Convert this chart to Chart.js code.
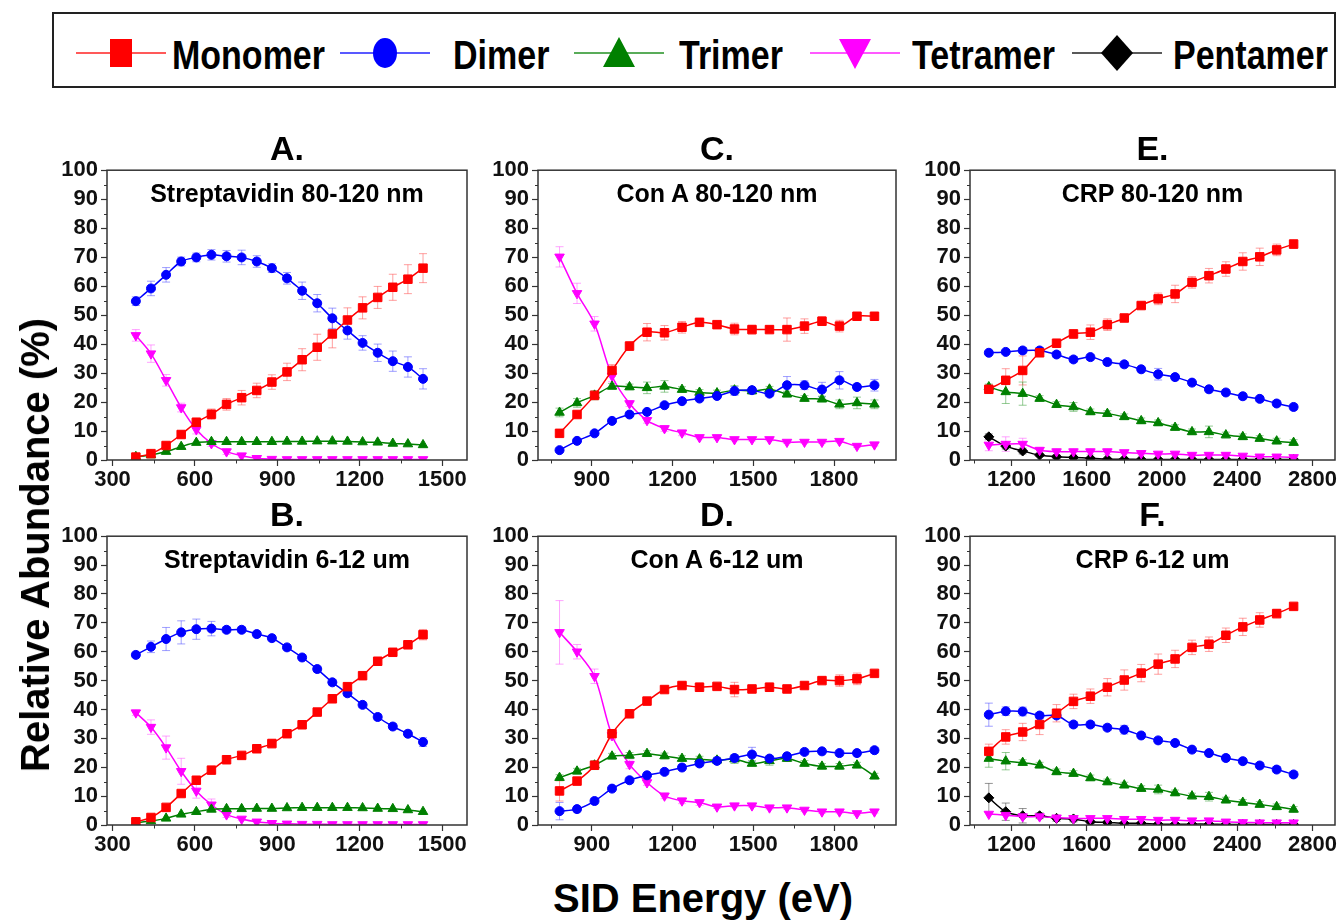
<!DOCTYPE html>
<html>
<head>
<meta charset="utf-8">
<script src="https://cdn.jsdelivr.net/npm/chart.js@4.4.0/dist/chart.umd.min.js"></script>
<style>
    html, body { margin: 0; padding: 0; background: #fff; }
    #wrap { position: relative; width: 1344px; height: 923px; overflow: hidden; font-family: "Liberation Sans", Arial, sans-serif; color: #000; }
    canvas { position: absolute; }
    .letter { position: absolute; font-weight: bold; font-size: 34px; line-height: 40px; transform: translateX(-50%); }
    .sub { position: absolute; font-weight: bold; font-size: 25px; line-height: 30px; white-space: nowrap; transform: translateX(-50%); }
    #legend { position: absolute; left: 52px; top: 12px; width: 1280px; height: 72px; border: 2.5px solid #222; }
    .leg-line { position: absolute; top: 35px; }
    .leg-text { position: absolute; top: 35px; font-weight: bold; font-size: 34px; line-height: 40px; transform: scaleY(1.22); white-space: nowrap; }
    .axis-title { position: absolute; font-weight: bold; font-size: 40px; line-height: 46px; white-space: nowrap; }
</style>
</head>
<body>
<div id="wrap">
    <div id="legend"></div>
</div>
<script>
    // SID energies (eV) for each protein
    var strepEnergy = [385, 440, 495, 550, 605, 660, 715, 770, 825, 880, 935, 990, 1045, 1100, 1155, 1210, 1265, 1320, 1375, 1430];
    var conAEnergy = [780, 845, 910, 975, 1040, 1105, 1170, 1235, 1300, 1365, 1430, 1495, 1560, 1625, 1690, 1755, 1820, 1885, 1950];
    var crpEnergy = [1080, 1170, 1260, 1350, 1440, 1530, 1620, 1710, 1800, 1890, 1980, 2070, 2160, 2250, 2340, 2430, 2520, 2610, 2700];

    var strepTicks = [300, 600, 900, 1200, 1500];
    var conATicks = [900, 1200, 1500, 1800];
    var crpTicks = [1200, 1600, 2000, 2400, 2800];
    var yTicks = [0, 10, 20, 30, 40, 50, 60, 70, 80, 90, 100];

    var seriesNames = ['Monomer', 'Dimer', 'Trimer', 'Tetramer', 'Pentamer'];

    // A. Streptavidin 80-120 nm
    var aMono = [1.0, 2.2, 5.0, 8.8, 13.0, 15.8, 19.2, 21.5, 24.0, 26.9, 30.4, 34.6, 38.9, 43.5, 48.3, 52.5, 56.1, 59.6, 62.4, 66.2];
    var aMonoErr = [0.5, 0.8, 1.0, 1.2, 1.5, 1.8, 2.0, 2.5, 2.5, 2.5, 3.0, 3.8, 4.5, 4.8, 4.2, 3.8, 3.8, 4.5, 5.0, 5.0];
    var aDim = [54.8, 59.2, 63.9, 68.5, 69.9, 70.8, 70.3, 69.9, 68.5, 66.2, 62.7, 58.4, 54.1, 48.9, 44.7, 40.4, 37.0, 34.1, 32.1, 28.0];
    var aDimErr = [1.5, 2.5, 2.5, 1.5, 1.5, 1.8, 2.0, 2.5, 2.0, 1.5, 2.0, 3.0, 3.0, 3.5, 3.0, 2.5, 3.0, 3.5, 3.5, 3.5];
    var aTri = [1.1, 1.7, 2.9, 4.6, 6.0, 6.3, 6.3, 6.3, 6.3, 6.3, 6.4, 6.4, 6.5, 6.5, 6.4, 6.2, 6.1, 5.7, 5.5, 5.2];
    var aTet = [43.0, 36.7, 27.5, 18.1, 10.5, 5.7, 2.9, 1.5, 0.6, 0.3, 0.2, 0.2, 0.2, 0.2, 0.2, 0.2, 0.2, 0.2, 0.2, 0.2];
    var aTetErr = [2.0, 3.0, 2.0, 1.5, 1.5, 1.0, 1.0, 0.5, 0.3, 0, 0, 0, 0, 0, 0, 0, 0, 0, 0, 0];

    // B. Streptavidin 6-12 um
    var bMono = [1.1, 2.6, 6.1, 10.9, 15.5, 19.0, 22.6, 24.1, 26.4, 28.2, 31.6, 34.7, 39.1, 43.7, 47.9, 51.7, 56.7, 59.8, 62.4, 65.9];
    var bMonoErr = [0.5, 0.5, 0.8, 1.0, 1.0, 1.0, 1.0, 1.0, 1.0, 1.5, 1.2, 1.0, 1.0, 1.0, 1.0, 1.0, 1.0, 1.0, 1.0, 1.8];
    var bDim = [58.9, 61.7, 64.4, 66.7, 67.8, 68.0, 67.6, 67.6, 66.1, 64.7, 61.5, 58.0, 54.0, 49.4, 45.6, 41.6, 37.4, 34.1, 31.6, 28.7];
    var bDimErr = [1.0, 2.0, 4.0, 4.0, 3.5, 2.5, 1.0, 1.0, 1.0, 1.0, 1.0, 1.0, 1.0, 1.0, 1.0, 1.0, 1.0, 1.0, 1.0, 1.5];
    var bTri = [0.8, 1.4, 2.3, 3.7, 4.6, 5.4, 5.6, 5.6, 5.7, 5.7, 5.9, 6.0, 6.0, 6.0, 6.0, 5.9, 5.7, 5.6, 5.2, 4.6];
    var bTet = [38.9, 33.9, 26.8, 18.6, 11.8, 7.0, 3.6, 2.1, 1.1, 0.6, 0.4, 0.3, 0.3, 0.2, 0.2, 0.2, 0.2, 0.2, 0.2, 0.2];
    var bTetErr = [1.0, 2.5, 4.0, 4.5, 2.5, 2.0, 1.0, 0.5, 0.3, 0, 0, 0, 0, 0, 0, 0, 0, 0, 0, 0];

    // C. Con A 80-120 nm
    var cMono = [9.2, 15.7, 22.3, 30.9, 39.3, 44.1, 43.9, 45.8, 47.5, 46.7, 45.2, 45.0, 45.0, 45.0, 46.2, 47.9, 46.2, 49.6, 49.6];
    var cMonoErr = [1.0, 1.0, 1.5, 2.0, 1.5, 3.0, 2.5, 2.0, 1.0, 1.0, 2.0, 1.5, 1.0, 4.0, 2.5, 1.5, 2.0, 1.0, 1.0];
    var cDim = [3.4, 6.6, 9.2, 13.5, 15.7, 16.6, 18.9, 20.3, 21.2, 22.1, 23.8, 24.1, 22.9, 25.8, 25.8, 24.3, 27.5, 25.2, 25.8];
    var cDimErr = [0.5, 0.5, 0.5, 0.5, 0.5, 0.5, 0.5, 0.5, 0.5, 0.5, 1.5, 1.0, 1.0, 3.0, 1.5, 2.5, 3.0, 1.0, 2.0];
    var cTri = [16.4, 19.7, 22.3, 25.4, 25.2, 24.9, 25.4, 24.3, 23.3, 23.1, 24.1, 23.8, 24.4, 22.7, 21.2, 21.0, 19.2, 19.7, 19.2];
    var cTriErr = [1.5, 1.5, 1.5, 1.0, 1.0, 2.0, 2.0, 1.0, 1.0, 1.0, 1.5, 1.0, 1.0, 1.0, 1.0, 1.0, 1.5, 2.0, 1.5];
    var cTet = [70.1, 57.5, 47.0, 29.0, 19.5, 13.7, 10.9, 9.4, 7.8, 7.8, 7.1, 7.1, 7.1, 6.2, 6.2, 6.2, 6.5, 4.8, 5.3];
    var cTetErr = [3.5, 3.5, 2.5, 2.0, 1.0, 1.0, 1.0, 1.0, 0.5, 0.5, 0.5, 0.5, 0.5, 0.5, 0.5, 0.5, 0.5, 0.5, 0.5];

    // D. Con A 6-12 um
    var dMono = [11.8, 15.2, 20.7, 31.6, 38.5, 42.9, 46.9, 48.3, 47.7, 48.0, 46.9, 47.1, 47.7, 47.1, 48.3, 50.0, 50.0, 50.6, 52.5];
    var dMonoErr = [3.5, 1.0, 1.0, 1.0, 1.0, 1.0, 1.0, 1.0, 1.5, 1.0, 2.5, 1.0, 1.5, 1.0, 1.0, 1.0, 2.0, 2.0, 1.0];
    var dDim = [4.8, 5.5, 8.3, 12.6, 15.5, 17.2, 18.4, 19.9, 21.3, 22.2, 23.2, 24.4, 23.0, 23.8, 25.3, 25.5, 24.9, 24.9, 25.9];
    var dDimErr = [3.0, 1.0, 1.0, 1.0, 1.0, 1.0, 1.0, 1.0, 1.0, 1.0, 1.0, 2.5, 1.0, 1.0, 1.0, 1.0, 1.0, 1.0, 1.0];
    var dTri = [16.4, 18.6, 20.7, 23.8, 24.1, 24.7, 23.9, 23.0, 22.8, 22.4, 22.8, 21.3, 22.2, 23.0, 21.3, 20.3, 20.3, 20.7, 16.9];
    var dTriErr = [1.0, 1.0, 1.5, 1.0, 1.0, 1.0, 1.0, 1.0, 1.0, 1.0, 1.5, 1.0, 1.5, 1.0, 1.0, 1.0, 1.0, 1.0, 1.0];
    var dTet = [66.7, 60.0, 51.5, 31.0, 21.0, 14.7, 10.1, 8.4, 7.8, 6.3, 6.7, 6.7, 6.0, 6.0, 5.2, 4.6, 4.6, 4.0, 4.6];
    var dTetErr = [11.0, 2.5, 2.5, 1.5, 1.5, 1.0, 1.0, 1.0, 1.0, 0.5, 0.5, 0.5, 0.5, 0.5, 0.5, 0.5, 0.5, 0.5, 0.5];

    // E. CRP 80-120 nm
    var eMono = [24.4, 27.5, 30.9, 37.0, 40.3, 43.5, 44.1, 46.7, 49.0, 53.3, 55.6, 57.3, 61.3, 63.6, 65.9, 68.5, 70.1, 72.5, 74.5];
    var eMonoErr = [1.0, 4.0, 5.0, 1.0, 1.0, 1.5, 2.5, 2.0, 1.0, 1.0, 2.0, 3.0, 2.0, 2.5, 2.5, 3.0, 3.0, 2.0, 1.5];
    var eDim = [37.0, 37.3, 37.8, 37.8, 36.4, 34.7, 35.5, 33.8, 33.0, 31.3, 29.6, 28.6, 26.7, 24.4, 23.3, 22.0, 21.1, 19.5, 18.3];
    var eDimErr = [0.5, 0.5, 1.0, 1.0, 1.0, 1.0, 1.0, 1.0, 1.0, 1.0, 2.0, 1.0, 1.0, 1.0, 1.0, 1.0, 1.0, 1.0, 1.0];
    var eTri = [25.2, 23.5, 22.9, 21.2, 19.1, 18.3, 16.6, 16.0, 14.9, 13.5, 12.8, 11.2, 9.7, 9.7, 8.6, 8.0, 7.4, 6.5, 6.0];
    var eTriErr = [1.0, 4.0, 4.0, 1.0, 1.0, 1.5, 1.0, 1.0, 1.0, 1.0, 1.0, 1.0, 1.0, 2.0, 1.0, 1.0, 1.0, 1.0, 1.0];
    var eTet = [5.2, 5.5, 5.5, 3.4, 2.9, 2.9, 2.9, 2.9, 2.6, 2.3, 2.1, 2.1, 1.7, 1.7, 1.7, 1.4, 1.1, 1.1, 0.9];
    var eTetErr = [2.0, 2.5, 2.0, 1.0, 1.0, 1.0, 1.0, 1.0, 0.5, 0.5, 0.5, 0.5, 0.5, 0.5, 0.5, 0.5, 0.5, 0.5, 0.5];
    var ePent = [8.0, 4.8, 3.1, 1.7, 1.1, 0.9, 0.6, 0.3, 0.3, 0.2, 0.2, 0.2, 0.2, 0.2, 0.2, 0.2, 0.2, 0.2, 0.2];
    var ePentErr = [1.0, 1.0, 1.0, 0.5, 0.5, 0.3, 0.3, 0, 0, 0, 0, 0, 0, 0, 0, 0, 0, 0, 0];

    // F. CRP 6-12 um
    var fMono = [25.5, 30.5, 32.2, 34.8, 38.7, 42.8, 44.6, 47.7, 50.2, 52.6, 55.7, 57.5, 61.5, 62.6, 65.7, 68.6, 71.0, 73.2, 75.7];
    var fMonoErr = [2.5, 2.5, 3.0, 3.5, 3.0, 2.5, 2.5, 3.0, 3.5, 3.0, 3.5, 3.0, 2.5, 2.5, 2.5, 3.0, 2.5, 1.5, 1.0];
    var fDim = [38.2, 39.4, 39.3, 37.9, 37.9, 34.8, 34.8, 33.7, 33.0, 31.0, 29.3, 28.4, 26.1, 24.9, 23.2, 22.1, 20.6, 19.2, 17.5];
    var fDimErr = [4.0, 1.5, 1.5, 1.0, 1.0, 1.0, 1.0, 1.0, 1.5, 1.0, 1.0, 1.0, 1.0, 1.0, 1.0, 1.0, 1.0, 1.0, 1.0];
    var fTri = [23.0, 22.1, 21.6, 20.7, 18.4, 17.8, 16.3, 14.9, 13.8, 12.6, 12.3, 11.1, 10.0, 9.8, 8.6, 7.8, 7.1, 6.3, 5.4];
    var fTriErr = [3.0, 3.0, 1.0, 1.0, 1.0, 1.0, 1.0, 1.0, 1.0, 1.0, 1.5, 1.0, 1.0, 1.5, 1.0, 1.0, 1.0, 1.0, 1.0];
    var fTet = [3.8, 3.4, 2.9, 2.9, 2.5, 2.3, 2.3, 2.3, 2.0, 2.0, 1.7, 1.7, 1.5, 1.5, 1.1, 0.9, 0.8, 0.8, 0.8];
    var fPent = [9.4, 4.6, 3.2, 3.2, 2.3, 2.1, 1.1, 0.9, 0.6, 0.6, 0.3, 0.3, 0.3, 0.3, 0.2, 0.2, 0.2, 0.2, 0.2];
    var fPentErr = [5.0, 3.0, 2.5, 1.0, 1.0, 1.0, 0.5, 0.5, 0, 0, 0, 0, 0, 0, 0, 0, 0, 0, 0];

    var FONT = '"Liberation Sans", Arial, sans-serif';

    // Look of each species (index matches seriesNames)
    var styles = [
        { color: '#ff0000', err: 'rgba(255,80,80,0.55)', point: 'rect', radius: 6, rotation: 0 },
        { color: '#0000ff', err: 'rgba(80,80,255,0.55)', point: 'circle', radius: 4.5, rotation: 0 },
        { color: '#008000', err: 'rgba(60,160,60,0.55)', point: 'triangle', radius: 5.5, rotation: 0 },
        { color: '#ff00ff', err: 'rgba(255,90,255,0.55)', point: 'triangle', radius: 5.5, rotation: 180 },
        { color: '#000000', err: 'rgba(60,60,60,0.55)', point: 'rectRot', radius: 5, rotation: 0 }
    ];

    var errorBarPlugin = {
        id: 'errorBars',
        beforeDatasetsDraw: function(chart) {
            var ctx = chart.ctx;
            var y = chart.scales.y;
            var area = chart.chartArea;
            ctx.save();
            ctx.beginPath();
            ctx.rect(area.left, area.top, area.right - area.left, area.bottom - area.top);
            ctx.clip();
            chart.data.datasets.forEach(function(ds, i) {
                if (!ds.errors) {
                    return;
                }
                var meta = chart.getDatasetMeta(i);
                ctx.strokeStyle = ds.errorColor;
                ctx.lineWidth = 1;
                ctx.beginPath();
                meta.data.forEach(function(pt, j) {
                    var e = ds.errors[j];
                    if (!e) {
                        return;
                    }
                    var v = ds.data[j].y;
                    var top = y.getPixelForValue(v + e);
                    var bot = y.getPixelForValue(v - e);
                    ctx.moveTo(pt.x, top);
                    ctx.lineTo(pt.x, bot);
                    ctx.moveTo(pt.x - 4, top);
                    ctx.lineTo(pt.x + 4, top);
                    ctx.moveTo(pt.x - 4, bot);
                    ctx.lineTo(pt.x + 4, bot);
                });
                ctx.stroke();
            });
            ctx.restore();
        }
    };

    // Box around the plot plus the small minor ticks
    var framePlugin = {
        id: 'frame',
        afterDraw: function(chart) {
            var ctx = chart.ctx;
            var a = chart.chartArea;
            var x = chart.scales.x;
            var y = chart.scales.y;
            ctx.save();
            ctx.strokeStyle = '#333';
            ctx.lineWidth = 1.5;
            ctx.strokeRect(a.left, a.top, a.right - a.left, a.bottom - a.top);
            ctx.lineWidth = 1;
            ctx.beginPath();
            for (var v = 5; v < 100; v += 10) {
                var py = Math.round(y.getPixelForValue(v)) + 0.5;
                ctx.moveTo(a.left - 3, py);
                ctx.lineTo(a.left, py);
            }
            var step = x.ticks[1].value - x.ticks[0].value;
            for (var u = x.ticks[0].value - step / 2; u <= x.max; u += step) {
                if (u < x.min) {
                    continue;
                }
                var px = Math.round(x.getPixelForValue(u)) + 0.5;
                ctx.moveTo(px, a.bottom);
                ctx.lineTo(px, a.bottom + 3.5);
            }
            ctx.stroke();
            ctx.restore();
        }
    };

    function makeDataset(idx, energy, values, errors) {
        var s = styles[idx];
        return {
            label: seriesNames[idx],
            data: energy.map(function(e, i) { return { x: e, y: values[i] }; }),
            errors: errors || null,
            errorColor: s.err,
            borderColor: s.color,
            backgroundColor: s.color,
            borderWidth: 1.5,
            pointStyle: s.point,
            pointRadius: s.radius,
            pointRotation: s.rotation,
            pointBorderWidth: 1,
            pointBorderColor: s.color,
            pointBackgroundColor: s.color,
            tension: 0.3
        };
    }

    function makePanel(opt) {
        var yw = 54, pt = 15, pr = 8, xh = 36;
        var canvas = document.createElement('canvas');
        canvas.width = opt.right - opt.left + yw + pr;
        canvas.height = opt.bottom - opt.top + pt + xh;
        canvas.style.left = (opt.left - yw) + 'px';
        canvas.style.top = (opt.top - pt) + 'px';
        document.getElementById('wrap').appendChild(canvas);

        var letter = document.createElement('div');
        letter.className = 'letter';
        letter.textContent = opt.letter;
        letter.style.left = ((opt.left + opt.right) / 2) + 'px';
        letter.style.top = (opt.top - 41) + 'px';
        document.getElementById('wrap').appendChild(letter);

        var sub = document.createElement('div');
        sub.className = 'sub';
        sub.textContent = opt.title;
        sub.style.left = ((opt.left + opt.right) / 2) + 'px';
        sub.style.top = (opt.top + 9) + 'px';
        document.getElementById('wrap').appendChild(sub);

        var tickFont = { family: FONT, weight: 'bold', size: 22 };
        return new Chart(canvas.getContext('2d'), {
            type: 'line',
            data: { datasets: opt.datasets },
            options: {
                responsive: false,
                animation: false,
                devicePixelRatio: 1,
                layout: { padding: { top: pt, right: pr, left: 0, bottom: 0 } },
                plugins: { legend: { display: false }, tooltip: { enabled: false } },
                scales: {
                    x: {
                        type: 'linear',
                        min: opt.xMin,
                        max: opt.xMax,
                        afterBuildTicks: function(s) { s.ticks = opt.xTicks.map(function(v) { return { value: v }; }); },
                        afterFit: function(s) { s.height = xh; },
                        border: { display: false },
                        grid: { drawOnChartArea: false, drawTicks: true, tickLength: 6, tickColor: '#333', tickWidth: 1.2 },
                        ticks: { font: tickFont, color: '#111', padding: 1, maxRotation: 0, autoSkip: false,
                            callback: function(v) { return String(v); } }
                    },
                    y: {
                        min: 0,
                        max: 100,
                        afterBuildTicks: function(s) { s.ticks = yTicks.map(function(v) { return { value: v }; }); },
                        afterFit: function(s) { s.width = yw; },
                        border: { display: false },
                        grid: { drawOnChartArea: false, drawTicks: true, tickLength: 6, tickColor: '#333', tickWidth: 1.2 },
                        ticks: { font: tickFont, color: '#111', padding: 3, autoSkip: false,
                            callback: function(v) { return String(v); } }
                    }
                }
            },
            plugins: [errorBarPlugin, framePlugin]
        });
    }

    makePanel({ letter: 'A.', title: 'Streptavidin 80-120 nm', left: 107, right: 467, top: 169, bottom: 460,
        xMin: 280, xMax: 1590, xTicks: strepTicks, datasets: [
            makeDataset(0, strepEnergy, aMono, aMonoErr), makeDataset(1, strepEnergy, aDim, aDimErr),
            makeDataset(2, strepEnergy, aTri), makeDataset(3, strepEnergy, aTet, aTetErr)] });
    makePanel({ letter: 'B.', title: 'Streptavidin 6-12 um', left: 107, right: 467, top: 535, bottom: 825,
        xMin: 280, xMax: 1590, xTicks: strepTicks, datasets: [
            makeDataset(0, strepEnergy, bMono, bMonoErr), makeDataset(1, strepEnergy, bDim, bDimErr),
            makeDataset(2, strepEnergy, bTri), makeDataset(3, strepEnergy, bTet, bTetErr)] });
    makePanel({ letter: 'C.', title: 'Con A 80-120 nm', left: 538, right: 896, top: 169, bottom: 460,
        xMin: 700, xMax: 2030, xTicks: conATicks, datasets: [
            makeDataset(0, conAEnergy, cMono, cMonoErr), makeDataset(1, conAEnergy, cDim, cDimErr),
            makeDataset(2, conAEnergy, cTri, cTriErr), makeDataset(3, conAEnergy, cTet, cTetErr)] });
    makePanel({ letter: 'D.', title: 'Con A 6-12 um', left: 538, right: 896, top: 535, bottom: 825,
        xMin: 700, xMax: 2030, xTicks: conATicks, datasets: [
            makeDataset(0, conAEnergy, dMono, dMonoErr), makeDataset(1, conAEnergy, dDim, dDimErr),
            makeDataset(2, conAEnergy, dTri, dTriErr), makeDataset(3, conAEnergy, dTet, dTetErr)] });
    makePanel({ letter: 'E.', title: 'CRP 80-120 nm', left: 970, right: 1335, top: 169, bottom: 460,
        xMin: 980, xMax: 2920, xTicks: crpTicks, datasets: [
            makeDataset(0, crpEnergy, eMono, eMonoErr), makeDataset(1, crpEnergy, eDim, eDimErr),
            makeDataset(2, crpEnergy, eTri, eTriErr), makeDataset(3, crpEnergy, eTet, eTetErr),
            makeDataset(4, crpEnergy, ePent, ePentErr)] });
    makePanel({ letter: 'F.', title: 'CRP 6-12 um', left: 970, right: 1335, top: 535, bottom: 825,
        xMin: 980, xMax: 2920, xTicks: crpTicks, datasets: [
            makeDataset(0, crpEnergy, fMono, fMonoErr), makeDataset(1, crpEnergy, fDim, fDimErr),
            makeDataset(2, crpEnergy, fTri, fTriErr), makeDataset(3, crpEnergy, fTet),
            makeDataset(4, crpEnergy, fPent, fPentErr)] });

    // Shared legend across the top
    (function() {
        var legend = document.getElementById('legend');
        var lineX = [22, 286, 520, 756, 1018];
        var textX = [118, 399, 625, 858, 1119];
        var markers = [
            '<rect x="34" y="6" width="22" height="28"/>',
            '<ellipse cx="45" cy="20" rx="12" ry="15"/>',
            '<polygon points="45,4 61,34 29,34"/>',
            '<polygon points="29,6 61,6 45,36"/>',
            '<polygon points="45,2 61,20 45,38 29,20"/>'
        ];
        seriesNames.forEach(function(name, i) {
            var c = styles[i].color;
            var svg = '<svg class="leg-line" style="left:' + lineX[i] + 'px;top:19px" width="90" height="40">' +
                '<line x1="0" y1="20" x2="90" y2="20" stroke="' + c + '" stroke-opacity="0.65" stroke-width="2"/>' +
                '<g fill="' + c + '">' + markers[i] + '</g></svg>';
            legend.insertAdjacentHTML('beforeend', svg);
            var t = document.createElement('div');
            t.className = 'leg-text';
            t.style.left = textX[i] + 'px';
            t.style.top = '20px';
            t.textContent = name;
            legend.appendChild(t);
        });
    })();

    // Shared axis titles
    (function() {
        var wrap = document.getElementById('wrap');
        var yt = document.createElement('div');
        yt.className = 'axis-title';
        yt.textContent = 'Relative Abundance (%)';
        yt.style.left = '35px';
        yt.style.top = '545px';
        yt.style.transform = 'translate(-50%, -50%) rotate(-90deg)';
        wrap.appendChild(yt);

        var xt = document.createElement('div');
        xt.className = 'axis-title';
        xt.textContent = 'SID Energy (eV)';
        xt.style.left = '703px';
        xt.style.top = '898px';
        xt.style.transform = 'translate(-50%, -50%)';
        wrap.appendChild(xt);
    })();
</script>
</body>
</html>
